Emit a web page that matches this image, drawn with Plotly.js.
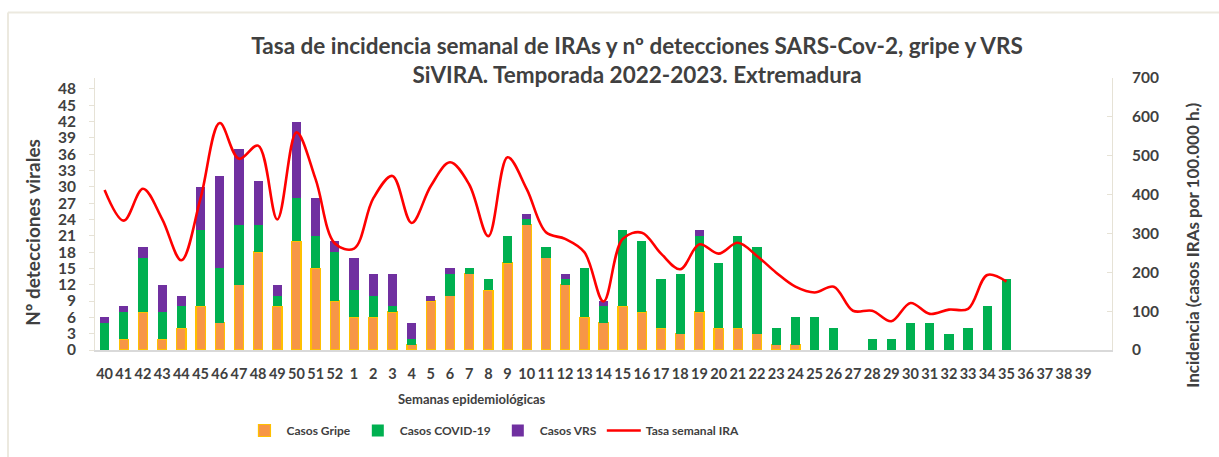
<!DOCTYPE html>
<html>
<head>
<meta charset="utf-8">
<script src="https://cdn.plot.ly/plotly-3.0.1.min.js"></script>
<style>html,body{margin:0;padding:0;background:#fff;}#chart{width:1219px;height:457px;}</style>
</head>
<body>
<div id="chart"></div>
<script>
// Semanas epidemiológicas (la última categoría queda vacía, como en el original)
const weeks = ['40','41','42','43','44','45','46','47','48','49','50','51','52',
  '1','2','3','4','5','6','7','8','9','10','11','12','13','14','15','16','17','18','19','20',
  '21','22','23','24','25','26','27','28','29','30','31','32','33','34','35','36','37','38','39',''];

const casosGripe = [0,2,7,2,4,8,5,12,18,8,20,15,9,
  6,6,7,1,9,10,14,11,16,23,17,12,6,5,8,7,4,3,7,4,
  4,3,1,1,0,0,0,0,0,0,0,0,0,0,0,0,0,0,0,null];

const casosCovid = [5,5,10,5,4,14,10,11,5,2,8,6,9,
  5,4,1,1,0,4,1,2,5,1,2,1,9,3,14,13,9,11,14,12,
  17,16,3,5,6,4,0,2,2,5,5,3,4,8,13,0,0,0,0,null];

const casosVRS = [1,1,2,5,2,8,17,14,8,2,14,7,2,
  6,4,6,3,1,1,0,0,0,1,0,1,0,1,0,0,0,0,1,0,
  0,0,0,0,0,0,0,0,0,0,0,0,0,0,0,0,0,0,0,null];

const tasaIRA = [412,333,415,337,231,390,584,492,526,336,560,439,274,
  261,390,448,327,422,483,426,293,496,414,303,286,252,125,286,302,248,208,272,248,
  276,242,199,163,148,163,101,101,74,121,93,104,106,193,176,null,null,null,null,null];

const leftTicks = [0,3,6,9,12,15,18,21,24,27,30,33,36,39,42,45,48];
const rightTicks = [0,100,200,300,400,500,600,700];

const idx = weeks.map((w,i)=>i);
const FONT = 'Lato, "Open Sans", sans-serif';
const TXT = '#404040';
// zero-height bars are not drawn (no stray outline)
const noZero = arr => arr.map(v => (v === 0 ? null : v));

const traces = [
  {type:'bar', name:'<b>Casos Gripe</b>', x:idx, y:noZero(casosGripe),
   marker:{color:'#F79646', line:{color:'#FFC000', width:1.2}}, hoverinfo:'y'},
  {type:'bar', name:'<b>Casos COVID-19</b>', x:idx, y:noZero(casosCovid),
   marker:{color:'#00B050', line:{width:0}}, hoverinfo:'y'},
  {type:'bar', name:'<b>Casos VRS</b>', x:idx, y:noZero(casosVRS),
   marker:{color:'#7030A0', line:{width:0}}, hoverinfo:'y'},
  {type:'scatter', mode:'lines', name:'<b>Tasa semanal IRA</b>', x:idx, y:tasaIRA, yaxis:'y2',
   line:{color:'#FF0000', width:2.6, shape:'spline', smoothing:1}, connectgaps:false}
];

const layout = {
  width:1219, height:457,
  margin:{l:95, r:107, t:78, b:105},
  paper_bgcolor:'#fff', plot_bgcolor:'#fff',
  font:{family:FONT, color:TXT},
  barmode:'stack', bargap:0.52,
  showlegend:true,
  title:{text:'<b>Tasa de incidencia semanal de IRAs y nº detecciones SARS-Cov-2, gripe y VRS</b><br><b>SiVIRA. Temporada 2022-2023. Extremadura</b>',
    font:{family:FONT, size:22.5, color:TXT}, x:0.5226, xref:'container', xanchor:'center',
    y:1-54/457, yref:'container', yanchor:'middle'},
  xaxis:{range:[-0.5, weeks.length-0.5], tickvals:idx, ticktext:weeks.map(w=>'<b>'+w+'</b>'),
    tickangle:0, tickfont:{family:FONT, size:14.5, color:TXT}, showgrid:false, zeroline:false,
    showline:true, linecolor:'#D9D9D9', linewidth:1.5, ticks:'', ticklabelstandoff:10, fixedrange:true},
  yaxis:{range:[0,50], tickvals:leftTicks, ticktext:leftTicks.map(v=>'<b>'+v+'</b>'),
    tickfont:{family:FONT, size:15.5, color:TXT}, showgrid:false, zeroline:false,
    showline:true, linecolor:'#E6E2D6', linewidth:1, ticks:'outside', ticklen:5, tickcolor:'#E6E2D6',
    ticklabelstandoff:10},
  yaxis2:{range:[0,700], tickvals:rightTicks, ticktext:rightTicks.map(v=>'<b>'+v+'</b>'),
    tickfont:{family:FONT, size:15.5, color:TXT}, overlaying:'y', side:'right', showgrid:false,
    zeroline:false, showline:true, linecolor:'#E6E2D6', linewidth:1, ticks:'inside', ticklen:5,
    tickcolor:'#E6E2D6', ticklabelstandoff:16},
  legend:{orientation:'h', x:0.145, xanchor:'left', y:-0.296, yanchor:'middle',
    font:{family:FONT, size:12, color:TXT}, itemwidth:34, traceorder:'normal', bgcolor:'rgba(0,0,0,0)'},
  annotations:[
    {text:'<b>Nº detecciones virales</b>', xref:'paper', yref:'paper', x:(33-95)/1017, y:(352-234)/274,
     textangle:-90, showarrow:false, font:{family:FONT, size:19, color:TXT}, xanchor:'center', yanchor:'middle'},
    {text:'<b>Incidencia (casos IRAs por 100.000 h.)</b>', xref:'paper', yref:'paper', x:(1193-95)/1017, y:(352-247)/274,
     textangle:-90, showarrow:false, font:{family:FONT, size:17, color:TXT}, xanchor:'center', yanchor:'middle'},
    {text:'<b>Semanas epidemiológicas</b>', xref:'paper', yref:'paper', x:(472-95)/1017, y:(352-401)/274,
     showarrow:false, font:{family:FONT, size:13, color:TXT}, xanchor:'center', yanchor:'middle'}
  ],
  shapes:[
    {type:'line', xref:'paper', yref:'paper', x0:(8-95)/1017, x1:(1230-95)/1017, y0:(352-12)/274, y1:(352-12)/274,
     line:{color:'#ECE9DF', width:2}},
    {type:'line', xref:'paper', yref:'paper', x0:(8-95)/1017, x1:(8-95)/1017, y0:(352-12)/274, y1:(352-470)/274,
     line:{color:'#ECE9DF', width:2}}
  ]
};

Plotly.newPlot('chart', traces, layout, {displayModeBar:false, staticPlot:true});
</script>
</body>
</html>
